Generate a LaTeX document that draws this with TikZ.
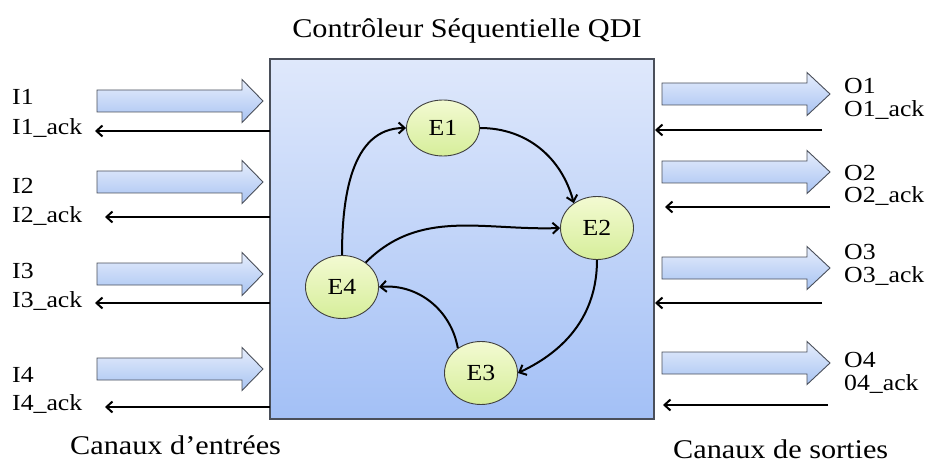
\documentclass[tikz,border=0pt]{standalone}
\usepackage{fontspec}
\setmainfont[FakeStretch=1.12]{Liberation Serif}
\usetikzlibrary{arrows.meta,shapes.geometric}
\definecolor{boxtop}{HTML}{DFE8FB}
\definecolor{boxbot}{HTML}{A3C0F6}
\definecolor{arrtop}{HTML}{E6EEFC}
\definecolor{arrbot}{HTML}{A8C3F2}
\definecolor{stop}{HTML}{F3FAD2}
\definecolor{sbot}{HTML}{D6EE9A}
\definecolor{edgegray}{HTML}{4A4F5A}
\newcommand\chanarrow[4]{%
  \path[chan] (#1,{#4-11}) -- (#2,{#4-11}) -- (#2,{#4-21.5}) -- (#3,#4) --
    (#2,{#4+21.5}) -- (#2,{#4+11}) -- (#1,{#4+11}) -- cycle;}
\begin{document}
\begin{tikzpicture}[x=1pt,y=-1pt,
  state/.style={ellipse, draw=black!75, line width=0.9pt, top color=stop, bottom color=sbot,
    minimum width=73pt, minimum height=63pt, inner sep=0pt, font=\fontsize{23}{23}\selectfont},
  trans/.style={line width=2pt, -{Straight Barb[length=6pt,width=11pt]}},
  ack/.style={line width=2pt, -{Straight Barb[length=6pt,width=11pt]}},
  chan/.style={draw=edgegray, line width=0.9pt, top color=arrtop, bottom color=arrbot},
  lbl/.style={anchor=base west, inner sep=0pt, font=\fontsize{23}{23}\selectfont},
  big/.style={inner sep=0pt, font=\fontsize{27}{27}\selectfont}]
\useasboundingbox (0,0) rectangle (929,465);

% main box
\node[draw=edgegray, line width=1.2pt, top color=boxtop, bottom color=boxbot,
  minimum width=384pt, minimum height=360pt, inner sep=0pt] (box) at (462,239) {};
\node[inner sep=0pt, anchor=base, font=\fontsize{27}{27}\selectfont] (title) at (467,38) {Contrôleur Séquentielle QDI};

% states
\node[state, minimum height=56pt] (E1) at (443,128) {E1};
\node[state] (E2) at (597,228) {E2};
\node[state] (E3) at (481,373) {E3};
\node[state] (E4) at (342,287) {E4};

\draw[trans] (E4.north) to[out=90,in=180] (E1.west);
\draw[trans] (E1.east) to[out=0,in=105] (E2.133);
\draw[trans] (E4.46) to[out=45,in=182] (E2.west);
\draw[trans] (E2.south) to[out=-90,in=25] (E3.east);
\draw[trans] (E3.133) to[out=100,in=5] (E4.east);

% input channels
\chanarrow{97}{242}{263}{101}
\chanarrow{97}{242}{263}{182}
\chanarrow{97}{242}{263}{274}
\chanarrow{97}{242}{263}{369}
\node[lbl] (I1) at (12,105) {I1};
\node[lbl] (I1a) at (12,135) {I1\_ack};
\node[lbl] (I2) at (12,194) {I2};
\node[lbl] (I2a) at (12,223) {I2\_ack};
\node[lbl] (I3) at (12,278) {I3};
\node[lbl] (I3a) at (12,307) {I3\_ack};
\node[lbl] (I4) at (12,382) {I4};
\node[lbl] (I4a) at (12,410) {I4\_ack};
\coordinate (ia1s) at (270,131); \coordinate (ia1e) at (95,131);
\coordinate (ia2s) at (270,217); \coordinate (ia2e) at (105,217);
\coordinate (ia3s) at (270,303); \coordinate (ia3e) at (95,303);
\coordinate (ia4s) at (270,407); \coordinate (ia4e) at (105,407);
\draw[ack] (ia1s) -- (ia1e);
\draw[ack] (ia2s) -- (ia2e);
\draw[ack] (ia3s) -- (ia3e);
\draw[ack] (ia4s) -- (ia4e);

% output channels
\chanarrow{662}{807}{830}{94}
\chanarrow{662}{807}{830}{172}
\chanarrow{662}{807}{830}{268}
\chanarrow{662}{807}{830}{363}
\node[lbl] (O1) at (844,94) {O1};
\node[lbl] (O1a) at (844,117) {O1\_ack};
\node[lbl] (O2) at (844,181) {O2};
\node[lbl] (O2a) at (844,203) {O2\_ack};
\node[lbl] (O3) at (844,259) {O3};
\node[lbl] (O3a) at (844,282) {O3\_ack};
\node[lbl] (O4) at (844,367) {O4};
\node[lbl] (O4a) at (844,390) {04\_ack};
\coordinate (oa1s) at (822,130); \coordinate (oa1e) at (655,130);
\coordinate (oa2s) at (830,207); \coordinate (oa2e) at (665,207);
\coordinate (oa3s) at (822,303); \coordinate (oa3e) at (655,303);
\coordinate (oa4s) at (828,405); \coordinate (oa4e) at (663,405);
\draw[ack] (oa1s) -- (oa1e);
\draw[ack] (oa2s) -- (oa2e);
\draw[ack] (oa3s) -- (oa3e);
\draw[ack] (oa4s) -- (oa4e);

\node[big, anchor=base west] (cin) at (70,454) {Canaux d’entrées};
\node[big, anchor=base west] (cout) at (673,458) {Canaux de sorties};
\end{tikzpicture}
\end{document}
